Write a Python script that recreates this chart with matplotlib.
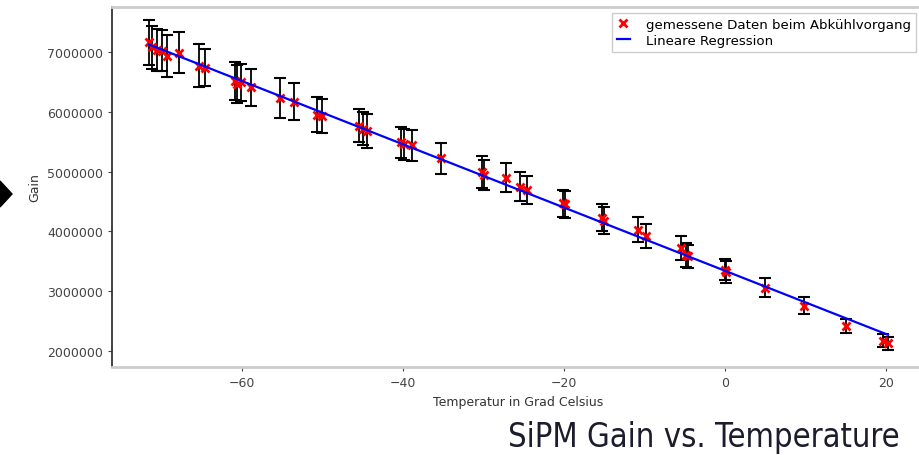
import matplotlib
matplotlib.use("Agg")
import matplotlib.pyplot as plt
from matplotlib.patches import Polygon
import numpy as np

# temperatures in deg C, gain in units of 1e6, error in units of 1e6
temp = [-71.6, -71.2, -70.6, -70.0, -69.3, -67.9, -65.4, -64.6, -60.9, -60.6,
        -60.2, -58.9, -55.3, -53.6, -50.7, -50.1, -45.5, -45.0, -44.5, -40.3,
        -39.9, -38.9, -35.3, -30.2, -30.0, -27.2, -25.5, -24.6, -20.1, -19.9,
        -15.3, -15.0, -10.8, -9.8, -5.5, -4.8, -4.6, 0.0, 0.2, 5.0,
        9.9, 15.1, 19.7, 20.3]
gain = [7.16, 7.08, 7.04, 7.02, 6.93, 6.99, 6.77, 6.74, 6.51, 6.47,
        6.49, 6.41, 6.23, 6.17, 5.95, 5.93, 5.77, 5.72, 5.68, 5.49,
        5.46, 5.44, 5.22, 4.99, 4.95, 4.90, 4.75, 4.69, 4.47, 4.45,
        4.23, 4.18, 4.03, 3.93, 3.72, 3.61, 3.58, 3.36, 3.32, 3.06,
        2.76, 2.42, 2.17, 2.13]
gain_err = [0.38, 0.36, 0.35, 0.34, 0.35, 0.34, 0.36, 0.31, 0.32, 0.32,
            0.31, 0.31, 0.34, 0.31, 0.29, 0.29, 0.28, 0.28, 0.28, 0.26,
            0.26, 0.26, 0.26, 0.27, 0.25, 0.245, 0.24, 0.24, 0.23, 0.23,
            0.22, 0.22, 0.21, 0.20, 0.20, 0.20, 0.19, 0.18, 0.18, 0.16,
            0.14, 0.12, 0.11, 0.11]

x = np.array(temp)
y = np.array(gain) * 1e6
yerr = np.array(gain_err) * 1e6

W, H = 919, 456
fig = plt.figure(figsize=(W / 100, H / 100), dpi=100)
ax = fig.add_axes([112 / W, 1 - 368 / H, 813 / W, 360 / H])

ax.errorbar(x, y, yerr=yerr, fmt="none", ecolor="black", elinewidth=1.3,
            capsize=4, capthick=1.5, zorder=2)
ax.plot(x, y, "rx", ms=6, mew=2, label="gemessene Daten beim Abkühlvorgang",
        zorder=3)

m, b = np.polyfit(x, y, 1)
xs = np.array([x.min(), x.max()])
ax.plot(xs, m * xs + b, "b-", lw=1.6, label="Lineare Regression", zorder=4)

ax.set_xlim(-76.2, 24.9)
ax.set_ylim(1.732e6, 7.752e6)
ax.set_xticks([-60, -40, -20, 0, 20])
ax.set_yticks([2e6, 3e6, 4e6, 5e6, 6e6, 7e6])
ax.ticklabel_format(axis="y", style="plain", useOffset=False)

ax.tick_params(labelsize=9, labelcolor="#444444", color="#444444", length=3)
ax.spines["left"].set_color("#333333")
ax.spines["left"].set_linewidth(1.3)
for s in ("top", "bottom"):
    ax.spines[s].set_color("#cccccc")
    ax.spines[s].set_linewidth(2)
ax.spines["right"].set_visible(False)

ax.set_xlabel("Temperatur in Grad Celsius", fontsize=9, color="#333333")
ax.set_ylabel("Gain", fontsize=9, color="#333333")

ax.legend(loc="upper left", bbox_to_anchor=(0.615, 0.983), borderaxespad=0,
          fontsize=9.6, handlelength=1.0, handletextpad=1.2, borderpad=0.35,
          labelspacing=0.25, fancybox=False, edgecolor="#cccccc", framealpha=1)

fig.text(900 / W, 1 - 447 / H, "SiPM Gain vs. Temperature", ha="right",
         va="baseline", fontsize=23.5, color="#1c1c2c",
         family="DejaVu Sans", fontstretch="condensed")

fig.patches.append(Polygon([(0, 1 - 182 / H), (12 / W, 1 - 195 / H), (0, 1 - 208 / H)],
                           closed=True, color="black", transform=fig.transFigure,
                           figure=fig))

fig.savefig("out.png", dpi=100)
